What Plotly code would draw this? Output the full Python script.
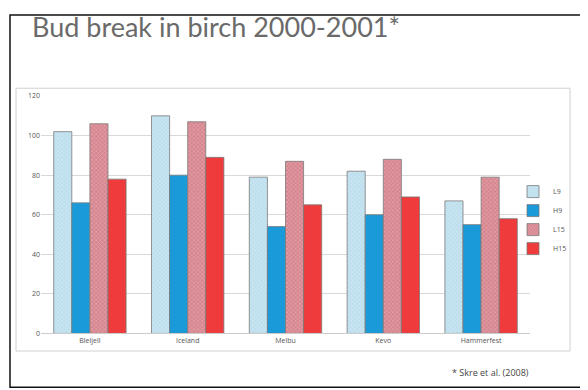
import plotly.graph_objects as go

categories = ["Bleljell", "Iceland", "Melbu", "Kevo", "Hammerfest"]
series_names = ["L9", "H9", "L15", "H15"]
L9 = [102, 110, 79, 82, 67]
H9 = [66, 80, 54, 60, 55]
L15 = [106, 107, 87, 88, 79]
H15 = [78, 89, 65, 69, 58]
y_ticks = [0, 20, 40, 60, 80, 100, 120]

styles = {
    "L9": dict(color="#bcdeed", pattern=dict(shape="x", fgcolor="#eef8fc", size=3, solidity=0.35)),
    "H9": dict(color="#1a9ad9"),
    "L15": dict(color="#d7858f", pattern=dict(shape="x", fgcolor="#f1ccd2", size=3, solidity=0.35)),
    "H15": dict(color="#ef3b3c"),
}

fig = go.Figure()
for name, vals in zip(series_names, [L9, H9, L15, H15]):
    st = styles[name]
    marker = dict(color=st["color"], line=dict(color="#7a7a7a", width=0.8))
    if "pattern" in st:
        marker["pattern"] = st["pattern"]
    fig.add_trace(go.Bar(name=name, x=categories, y=vals, marker=marker))

fig.update_layout(
    width=588, height=390,
    margin=dict(l=0, r=0, t=0, b=0),
    paper_bgcolor="white", plot_bgcolor="white",
    barmode="group", bargap=0.26, bargroupgap=0,
    font=dict(family="Open Sans, Arial", color="#555555"),
    xaxis=dict(domain=[33/588, 522/588], showgrid=False, showline=True,
               linecolor="#cccccc", linewidth=1, ticks="",
               tickfont=dict(size=7, color="#555555")),
    yaxis=dict(domain=[1-328/390, 1-85/390], range=[0, 120], tickvals=y_ticks,
               showgrid=True, gridcolor="#d9d9d9", gridwidth=1, zeroline=False,
               showline=False, ticks="", tickfont=dict(size=7, color="#555555")),
    legend=dict(x=505/588, y=1-212/390, xanchor="left", yanchor="middle",
                font=dict(size=7, color="#555555"), itemwidth=30,
                tracegroupgap=0, bgcolor="rgba(0,0,0,0)"),
    showlegend=True,
)

fig.add_annotation(text="Bud break in birch 2000-2001*", xref="paper", yref="paper",
                   x=22/588, y=1-14/390, xanchor="left", yanchor="middle", showarrow=False,
                   font=dict(family="Lato, Open Sans", size=27, color="#6a6a6a"))
fig.add_annotation(text="* Skre et al. (2008)", xref="paper", yref="paper",
                   x=523/588, y=1-368/390, xanchor="right", yanchor="middle", showarrow=False,
                   font=dict(family="Open Sans", size=9, color="#444444"))

# outer slide frame
fig.add_shape(type="rect", xref="paper", yref="paper", x0=2/588, x1=583/588,
              y0=1-383/390, y1=1-2/390, line=dict(color="#111111", width=1.5))
# chart area box
fig.add_shape(type="rect", xref="paper", yref="paper", x0=8/588, x1=562/588,
              y0=1-346/390, y1=1-77/390, line=dict(color="#d0d0d0", width=1))

fig.write_html("out.html")
